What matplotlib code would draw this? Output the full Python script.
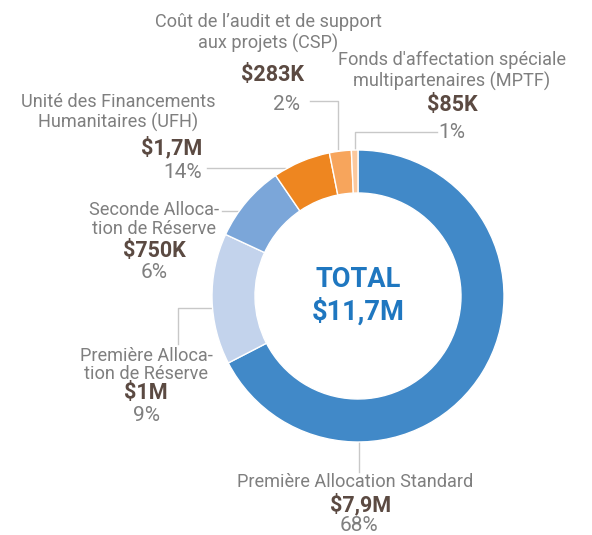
import matplotlib.pyplot as plt

plt.rcParams['font.family'] = ['Roboto', 'DejaVu Sans']

# Data (millions USD), one entry per category
categories = ['Première Allocation Standard', 'Première Allocation de Réserve',
              'Seconde Allocation de Réserve', 'Unité des Financements Humanitaires (UFH)',
              "Coût de l'audit et de support aux projets (CSP)",
              "Fonds d'affectation spéciale multipartenaires (MPTF)"]
values = [7.9, 1.0, 0.75, 1.7, 0.283, 0.085]
value_labels = ['$7,9M', '$1M', '$750K', '$1,7M', '$283K', '$85K']
pct_labels = ['68%', '9%', '6%', '14%', '2%', '1%']
# order in which the slices are drawn clockwise from the top
slice_order = [0, 3, 1, 2, 4, 5]
slice_colors = ['#4189c8', '#c3d3ec', '#7ba6d9', '#ee8620', '#f7a55c', '#fbc89d']

W, H = 592, 535
fig = plt.figure(figsize=(W / 100, H / 100), dpi=100)
ax = fig.add_axes([0, 0, 1, 1])


def Y(y):
    return H - y


cx, cy, r = 358, 296, 146
ax.pie([values[i] for i in slice_order], colors=slice_colors, startangle=90,
       counterclock=False, center=(cx, Y(cy)), radius=r,
       wedgeprops=dict(width=43, edgecolor='white', linewidth=1))
ax.set_xlim(0, W)
ax.set_ylim(0, H)
ax.axis('off')

grey = '#7f7f7f'
brown = '#5b4a42'
line_c = '#c8c8c8'
fs_lab = 13.1
fs_val = 15.5
fs_pct = 15


def lines(pts):
    xs = [p[0] for p in pts]
    ys = [Y(p[1]) for p in pts]
    ax.plot(xs, ys, color=line_c, lw=1, zorder=0)


# ys are text baselines in pixels from the top
def label(x, ys, name_lines, i, xv=None, xp=None):
    for (yy, t) in zip(ys[:-2], name_lines):
        ax.text(x, Y(yy), t, ha='center', va='baseline', fontsize=fs_lab, color=grey)
    ax.text(xv or x, Y(ys[-2]), value_labels[i], ha='center', va='baseline',
            fontsize=fs_val, color=brown, fontweight='bold')
    ax.text(xp or x, Y(ys[-1]), pct_labels[i], ha='center', va='baseline',
            fontsize=fs_pct, color=grey)


# Standard
label(355, [487, 511, 531], ['Première Allocation Standard'], 0, xv=361, xp=359)
lines([(359, 442), (359, 472)])

# Première Réserve
label(146, [361, 379, 399, 421], ['Première Alloca-', 'tion de Réserve'], 1)
lines([(213, 308), (178, 308), (178, 344)])

# Seconde
label(154, [215, 234, 257, 278], ['Seconde Alloca-', 'tion de Réserve'], 2)
lines([(222, 211), (239, 211)])

# UFH
label(118, [107, 128, 154, 178], ['Unité des Financements', 'Humanitaires (UFH)'], 3,
      xv=172, xp=183)
lines([(207, 168), (285, 168)])

# CSP
label(268, [27, 49, 81, 110], ['Coût de l’audit et de support', 'aux projets (CSP)'], 4,
      xv=272, xp=286)
lines([(310, 101), (338, 101), (338, 149)])

# MPTF
label(452, [65, 87, 111, 138], ["Fonds d'affectation spéciale", 'multipartenaires (MPTF)'], 5)
lines([(437, 132), (355, 132), (355, 150)])

# Total
ax.text(cx, Y(287), 'TOTAL', ha='center', va='baseline', fontsize=19.6,
        color='#1f77c0', fontweight='bold')
ax.text(cx, Y(320), '$11,7M', ha='center', va='baseline', fontsize=19.6,
        color='#1f77c0', fontweight='bold')

fig.savefig('out.png', dpi=100)
